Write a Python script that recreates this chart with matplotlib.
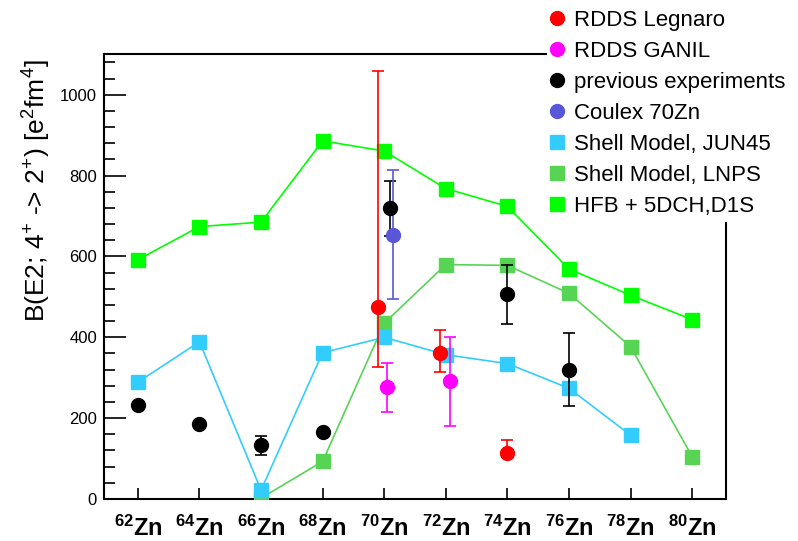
import numpy as np
import matplotlib.pyplot as plt
from matplotlib.lines import Line2D
from matplotlib.patches import Rectangle

plt.rcParams['font.family'] = ['Liberation Sans', 'DejaVu Sans']
plt.rcParams['mathtext.fontset'] = 'custom'
plt.rcParams['mathtext.rm'] = 'Liberation Sans'
plt.rcParams['mathtext.bf'] = 'Liberation Sans:bold'

# isotopes (mass number)
masses = [62, 64, 66, 68, 70, 72, 74, 76, 78, 80]
tick_labels = [r'$\mathbf{^{%d}Zn}$' % m for m in masses]

# theory curves
hfb_x = [62, 64, 66, 68, 70, 72, 74, 76, 78, 80]
hfb_y = [592, 674, 685, 886, 861, 768, 724, 569, 504, 444]
lnps_x = [66, 68, 70, 72, 74, 76, 78, 80]
lnps_y = [2, 93, 435, 580, 578, 509, 377, 105]
jun45_x = [62, 64, 66, 68, 70, 72, 74, 76, 78]
jun45_y = [289, 389, 22, 362, 400, 357, 335, 274, 158]

# experiments
legnaro_x = [69.8, 71.8, 74.0]
legnaro_y = [474, 361, 115]
legnaro_lo = [147, 48, 10]
legnaro_hi = [584, 56, 32]

ganil_x = [70.1, 72.15]
ganil_y = [276, 291]
ganil_err = [61, 110]

prev_x = [62, 64, 66, 68, 70.2, 74, 76]
prev_y = [232, 185, 133, 166, 719, 507, 320]
prev_err = [0, 0, 24, 0, 69, 73, 91]

coulex_x = [70.3]
coulex_y = [654]
coulex_err = [160]

c_red = '#ff0000'
c_mag = '#ff00ff'
c_blue = '#5a56d8'
c_cyan = '#33ccff'
c_lnps = '#58d454'
c_hfb = '#00ff00'

fig = plt.figure(figsize=(7.98, 5.41), dpi=100)
ax = fig.add_axes([104 / 798, 1 - 499 / 541, 622 / 798, 445 / 541])

ms = 10
ax.plot(hfb_x, hfb_y, color=c_hfb, lw=1.2, marker='s', ms=ms, mec=c_hfb, zorder=2)
ax.plot(lnps_x, lnps_y, color=c_lnps, lw=1.2, marker='s', ms=ms, mec=c_lnps, zorder=3)
ax.plot(jun45_x, jun45_y, color=c_cyan, lw=1.2, marker='s', ms=ms, mec=c_cyan, zorder=3)

ekw = dict(fmt='o', ms=ms, capsize=4, elinewidth=1.2, capthick=1.2, zorder=5)
ax.errorbar(legnaro_x, legnaro_y, yerr=[legnaro_lo, legnaro_hi], color=c_red, **ekw)
ax.errorbar(ganil_x, ganil_y, yerr=ganil_err, color=c_mag, **ekw)
ax.errorbar(prev_x, prev_y, yerr=prev_err, color='black', **ekw)
ax.errorbar(coulex_x, coulex_y, yerr=coulex_err, color=c_blue, **ekw)

ax.set_xlim(60.9, 81.1)
ax.set_ylim(0, 1101)
ax.set_xticks(masses)
ax.set_xticklabels(tick_labels, fontsize=17)
ax.set_yticks(np.arange(0, 1001, 200))
ax.set_yticks(np.arange(0, 1101, 40), minor=True)
ax.tick_params(axis='x', direction='in', length=8, width=1.2, pad=12)
ax.tick_params(axis='y', which='major', direction='in', length=16, width=1.2, labelsize=12, pad=5)
ax.tick_params(axis='y', which='minor', direction='in', length=8, width=1.2)
for s in ax.spines.values():
    s.set_linewidth(1.5)

fig.text(36 / 798, 1 - 59 / 541, r'B(E2; 4$^{+}$ -> 2$^{+}$) [e$^{2}$fm$^{4}$]',
         fontsize=19, rotation=90, ha='center', va='top')

# white area behind the legend hides the frame corner
fig.patches.append(Rectangle((547 / 798, 1 - 222 / 541), 1, 1, transform=fig.transFigure,
                             facecolor='white', edgecolor='none', zorder=3))

handles = [
    Line2D([], [], ls='none', marker='o', ms=ms, color=c_red),
    Line2D([], [], ls='none', marker='o', ms=ms, color=c_mag),
    Line2D([], [], ls='none', marker='o', ms=ms, color='black'),
    Line2D([], [], ls='none', marker='o', ms=ms, color=c_blue),
    Line2D([], [], ls='none', marker='s', ms=ms, color=c_cyan),
    Line2D([], [], ls='none', marker='s', ms=ms, color=c_lnps),
    Line2D([], [], ls='none', marker='s', ms=ms, color=c_hfb),
]
labels = ['RDDS Legnaro', 'RDDS GANIL', 'previous experiments', 'Coulex 70Zn',
          'Shell Model, JUN45', 'Shell Model, LNPS', 'HFB + 5DCH,D1S']
leg = fig.legend(handles, labels, loc='upper left', bbox_to_anchor=(548 / 798, 1 - 10 / 541),
                 frameon=False, fontsize=16, handlelength=0.8, handletextpad=0.35,
                 labelspacing=0.45, borderpad=0, borderaxespad=0)
leg.set_zorder(6)

fig.savefig('out.png', dpi=100)
